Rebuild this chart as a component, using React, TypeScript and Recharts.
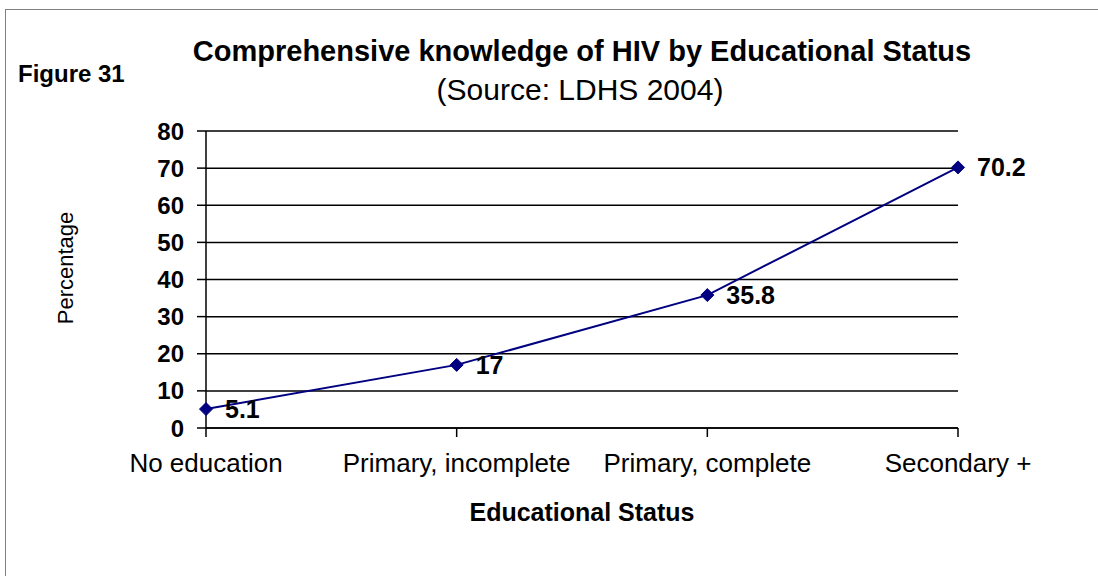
import { LineChart, Line, XAxis, YAxis, CartesianGrid, LabelList } from "recharts"

const categories = ["No education", "Primary, incomplete", "Primary, complete", "Secondary +"]
const knowledge = [5.1, 17, 35.8, 70.2]
const yTicks = [0, 10, 20, 30, 40, 50, 60, 70, 80]

const data = categories.map((status, i) => ({ status, value: knowledge[i] }))

const font = '"Liberation Sans", Arial, sans-serif'
const navy = "#000080"

function Diamond(props: any) {
  const { cx, cy, index } = props
  if (cx == null || cy == null) return null
  const r = 6.5
  return (
    <polygon
      key={`dot-${index}`}
      points={`${cx},${cy - r} ${cx + r},${cy} ${cx},${cy + r} ${cx - r},${cy}`}
      fill={navy}
      stroke={navy}
    />
  )
}

function ValueLabel(props: any) {
  const { x, y, value } = props
  return (
    <text x={x + 19} y={y} dominantBaseline="central" fontFamily={font} fontWeight="bold" fontSize={25} fill="#000">
      {value}
    </text>
  )
}

export default function App() {
  return (
    <div style={{ position: "absolute", left: 0, top: 0, width: 1098, height: 576, overflow: "hidden", background: "#fff", fontFamily: font }}>
      <div style={{ position: "absolute", left: 5, top: 9, width: 1200, height: 700, border: "1px solid #808080" }} />
      <div style={{ position: "absolute", left: 0, top: 0 }}>
        <LineChart width={1098} height={576} data={data} margin={{ top: 131, right: 140, bottom: 108, left: 50 }}>
          <CartesianGrid vertical={false} stroke="#000" strokeWidth={1.5} />
          <XAxis
            dataKey="status"
            height={40}
            stroke="#000"
            strokeWidth={1.5}
            tickSize={9}
            tickMargin={17}
            tick={{ fill: "#000", fontSize: 26, fontFamily: font }}
            interval={0}
          />
          <YAxis
            width={156}
            domain={[0, 80]}
            ticks={yTicks}
            stroke="#000"
            strokeWidth={1.5}
            tickSize={9}
            tickMargin={13}
            tick={{ fill: "#000", fontSize: 24, fontWeight: "bold", fontFamily: font }}
            interval={0}
          />
          <Line
            type="linear"
            dataKey="value"
            stroke={navy}
            strokeWidth={2}
            dot={<Diamond />}
            activeDot={false}
            isAnimationActive={false}
          >
            <LabelList dataKey="value" content={<ValueLabel />} />
          </Line>
        </LineChart>
      </div>
      <svg width={1098} height={576} style={{ position: "absolute", left: 0, top: 0, pointerEvents: "none" }}>
        <text x={582} y={61} textAnchor="middle" fontFamily={font} fontWeight="bold" fontSize={29} fill="#000">
          Comprehensive knowledge of HIV by Educational Status
        </text>
        <text x={580} y={100} textAnchor="middle" fontFamily={font} fontSize={30} fill="#000">
          (Source: LDHS 2004)
        </text>
        <text x={18} y={82} fontFamily={font} fontWeight="bold" fontSize={24} fill="#000">
          Figure 31
        </text>
        <text x={73} y={268} textAnchor="middle" transform="rotate(-90, 73, 268)" fontFamily={font} fontSize={22} fill="#000">
          Percentage
        </text>
        <text x={582} y={521} textAnchor="middle" fontFamily={font} fontWeight="bold" fontSize={25} fill="#000">
          Educational Status
        </text>
      </svg>
    </div>
  )
}
